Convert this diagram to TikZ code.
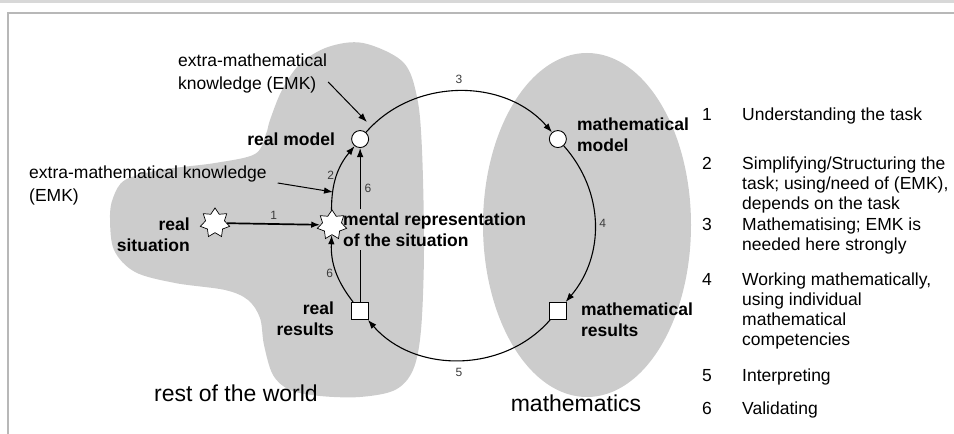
\documentclass[tikz,border=0pt]{standalone}
\usepackage{fontspec}
\setmainfont{Liberation Sans}
\usepackage{tikz}
\usetikzlibrary{shapes.geometric}
\usetikzlibrary{arrows.meta,calc,backgrounds}
\usetikzlibrary{positioning}
\definecolor{worldgray}{RGB}{204,204,204}
\definecolor{framegray}{RGB}{216,216,216}
\definecolor{numgray}{RGB}{60,60,60}
\tikzstyle{cycle}=[
  x=1pt,y=1pt,>={Latex[length=9pt,width=6.5pt]},font=\fontsize{17.5}{21}\selectfont
]
\tikzstyle{model}=[
  draw,circle,fill=white,inner sep=0pt,minimum size=17pt,line width=0.9pt
]
\tikzstyle{result}=[
  draw,rectangle,fill=white,inner sep=0pt,minimum size=17pt,line width=0.9pt
]
\tikzstyle{situation}=[
  draw,star,star points=7,star point ratio=1.55,fill=white,inner sep=0pt,minimum size=30pt,line width=0.7pt
]
\tikzstyle{stagelabel}=[
  font=\bfseries\fontsize{17.5}{21}\selectfont,inner sep=0pt
]
\tikzstyle{numlabel}=[
  font=\fontsize{12}{14}\selectfont,text=numgray,inner sep=1pt
]
\tikzstyle{phase}=[
  line width=1.1pt,->
]
\tikzstyle{emk}=[
  align=left,inner sep=0pt,anchor=west,font=\fontsize{17.5}{23}\selectfont
]
\tikzstyle{listtext}=[
  align=left,inner sep=0pt,anchor=north west,font=\fontsize{17.5}{20}\selectfont
]

\begin{document}
\begin{tikzpicture}[cycle]
    \useasboundingbox (0,0) rectangle (954,434);
    \draw[framegray, line width=3pt] (0,432) -- (954,432);
    \draw[framegray!85!black, line width=2pt] (954,420.5) -- (8.3,420.5) -- (8.3,0);

    \def\rad{131}
    \coordinate (c) at (459,209);
    \node (realmod) at ($(c)+(139:\rad)$) [model] {};
    \node (mathmod) at ($(c)+(41:\rad)$) [model] {};
    \node (mathres) at ($(c)+(-41:\rad)$) [result] {};
    \node (realres) at ($(c)+(-139:\rad)$) [result] {};
    \node (mentstar) at ($(c)+(180:127)$) [situation] {};
    \node (realsit) at (215,211) [situation] {};

    \node (realmodlab) at ($(realmod)+(-25,0)$) [stagelabel, anchor=east] {real model};
    \node (mathmodlab) at ($(mathmod)+(19,4)$) [stagelabel, anchor=west, align=left] {mathematical\\model};
    \node (mentlab) at ($(mentstar)+(8,-4.5)$) [stagelabel, anchor=west, align=left, inner sep=3pt] {mental representation\\of the situation};
    \node (realsitlab) at ($(realsit)+(-25,5)$) [stagelabel, anchor=north east, align=right] {real\\situation};
    \node (realreslab) at ($(realres)+(-26,-8)$) [stagelabel, anchor=east, align=right] {real\\results};
    \node (mathreslab) at ($(mathres)+(23,-9)$) [stagelabel, anchor=west, align=left] {mathematical\\results};

    \node (world) at (236,41) [font=\fontsize{23}{27}\selectfont] {rest of the world};
    \node (maths) at (576,31) [font=\fontsize{23}{27}\selectfont] {mathematics};

    \node (emka) at (178,360.5) [emk] {extra-mathematical\\knowledge (EMK)};
    \node (emkb) at (29,248.5) [emk] {extra-mathematical knowledge\\(EMK)};
    \coordinate (emkatip) at (367,312);
    \coordinate (emkbtip) at (333,242);

    % legend of the phases
    \node (n1) at (702,326) [listtext] {1};
    \node (t1) at (742,326) [listtext] {Understanding the task};
    \node (n2) at (702,277) [listtext] {2};
    \node (t2) at (742,277) [listtext] {Simplifying/Structuring the\\task; using/need of (EMK),\\depends on the task};
    \node (n3) at (702,216) [listtext] {3};
    \node (t3) at (742,216) [listtext] {Mathematising; EMK is\\needed here strongly};
    \node (n4) at (702,161) [listtext] {4};
    \node (t4) at (742,161) [listtext] {Working mathematically,\\using individual\\mathematical\\competencies};
    \node (n5) at (702,65) [listtext] {5};
    \node (t5) at (742,65) [listtext] {Interpreting};
    \node (n6) at (702,32) [listtext] {6};
    \node (t6) at (742,32) [listtext] {Validating};

    \begin{scope}[on background layer]
      \fill[worldgray] plot[smooth cycle, tension=0.55] coordinates {
        (363,391) (403,372) (417,337) (422,284) (424,184) (421,104) (413,64)
        (395,44) (360,37) (320,38) (290,44) (273,59) (264,89) (260,116)
        (248,134) (225,144) (175,151) (135,162) (114,184) (110,216) (113,236)
        (125,254) (160,264) (215,271) (255,280) (266,300) (270,314) (282,344)
        (300,370) (328,387)};
      \fill[worldgray] (587,209) ellipse [x radius=104, y radius=172];

      \draw[phase, line width=1.7pt] (realsit) -- (mentstar) node[numlabel, midway, above=3pt] {1};
      \draw[phase] (mentstar) to[bend left=20] node[numlabel, left=1pt] {2} (realmod);
      \draw[phase] (realmod) to[bend left=49] node[numlabel, above=6pt] {3} (mathmod);
      \draw[phase] (mathmod) to[bend left=41] node[numlabel, right=3pt] {4} (mathres);
      \draw[phase] (mathres) to[bend left=49] node[numlabel, below=7pt] {5} (realres);
      \draw[phase] (realres) to[bend left=20] node[numlabel, left=1pt, yshift=-3pt] {6} (mentstar);

      \draw[line width=1.1pt] (realres) -- (realres |- mentlab.south);
      \draw[phase] (realmod |- mentlab.north) -- (realmod) node[numlabel, pos=0.35, right=3pt] {6};

      \draw[phase, line width=1pt] ($(emka.east)+(1,-8.5)$) -- (emkatip);
      \draw[phase, line width=1pt] ($(emkb.east)+(11,2.5)$) -- (emkbtip);
    \end{scope}

\end{tikzpicture}
\end{document}
